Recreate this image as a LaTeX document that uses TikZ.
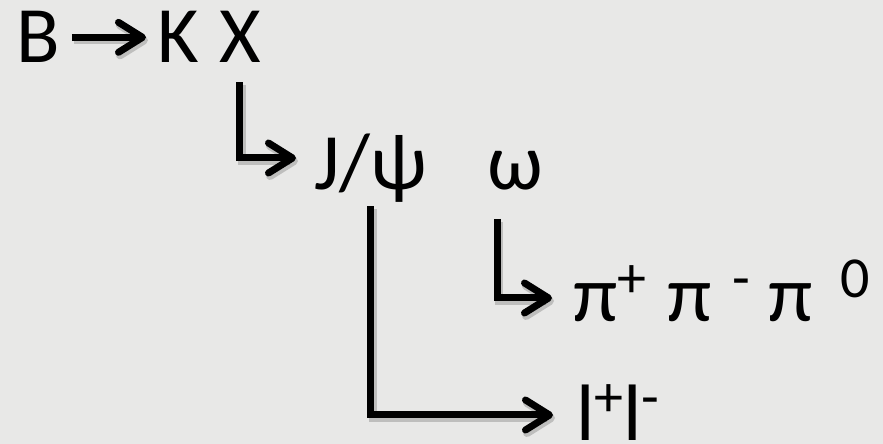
\documentclass[tikz,border=0pt]{standalone}
\usepackage{fontspec}
\setmainfont{Carlito}
\usepackage{xcolor}
\usepackage{tikz}
\usetikzlibrary{calc,arrows.meta}
\definecolor{paper}{RGB}{232,232,231}
\newcommand\upidx[1]{\raisebox{0.31em}{\fontsize{58}{66}\selectfont #1}}

\begin{document}
\begin{tikzpicture}[x=1pt,y=1pt,
	>={Straight Barb[length=24pt,width=30pt,round]},
	part/.style={anchor=base west,inner sep=0pt,font=\fontsize{80}{96}\selectfont},
	conn/.style={->,line width=7pt,
		preaction={draw,line width=8pt,black,opacity=0.18,
			transform canvas={shift={(2pt,-3pt)}}}}]
	\fill[paper] (0,0) rectangle (883,444);
	\useasboundingbox (0,0) rectangle (883,444);
	
	\node[part] (B) at (16,381) {B};
	\node[part] (K) at (157,381) {K};
	\node[part] (X) at (219,381) {X};
	\node[part] (Jpsi) at (314,254) {J/ψ};
	\node[part] (omega) at (487,254) {ω};
	\node[part] (pis) at (573,122) {π\upidx{+}\kern3pt{} π \kern3pt\upidx{-} π \kern10pt\upidx{0}};
	\node[part] (leps) at (576,3) {l\upidx{+}l\upidx{-}};
	
	\draw[conn,shorten <=12pt,shorten >=11pt] (B.east) -- (K.west);
	\draw[conn] ([yshift=-19pt]X.south) |- ([xshift=-18pt,yshift=32pt]Jpsi.base west);
	\draw[conn] ([yshift=-3pt]Jpsi.south) |- ([xshift=-23pt,yshift=26pt]leps.base west);
	\draw[conn] ([xshift=10pt,yshift=-28pt]omega.south west) |- ([xshift=-21pt,yshift=24pt]pis.base west);
\end{tikzpicture}
\end{document}
